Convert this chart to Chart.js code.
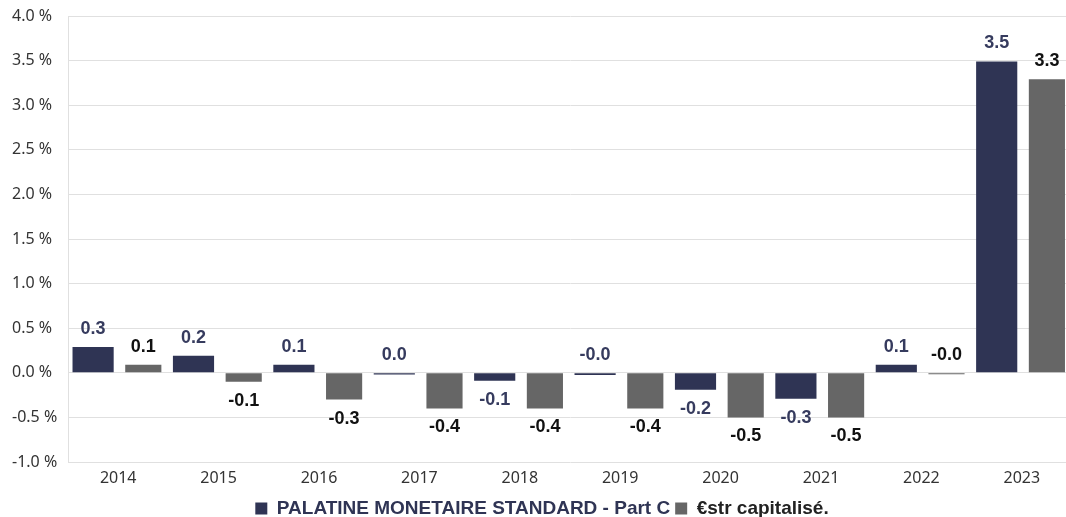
<!DOCTYPE html>
<html>
<head>
<meta charset="utf-8">
<script src="https://cdn.jsdelivr.net/npm/chart.js@4.4.1/dist/chart.umd.min.js"></script>
<style>
html,body{margin:0;padding:0;background:#fff;overflow:hidden;}
#wrap{position:absolute;left:0;top:0;width:1072px;height:528px;}
</style>
</head>
<body>
<div id="wrap"><canvas id="c"></canvas></div>
<script>
const categories = ["2014","2015","2016","2017","2018","2019","2020","2021","2022","2023"];
const seriesNames = ["PALATINE MONETAIRE STANDARD - Part C", "€str capitalisé."];
const fundValues = [0.29, 0.19, 0.09, -0.02, -0.09, -0.025, -0.19, -0.29, 0.09, 3.49];
const benchValues = [0.09, -0.10, -0.30, -0.40, -0.40, -0.40, -0.50, -0.50, -0.015, 3.29];
const fundLabels = ["0.3","0.2","0.1","0.0","-0.1","-0.0","-0.2","-0.3","0.1","3.5"];
const benchLabels = ["0.1","-0.1","-0.3","-0.4","-0.4","-0.4","-0.5","-0.5","-0.0","3.3"];
const yTicks = [-1.0,-0.5,0.0,0.5,1.0,1.5,2.0,2.5,3.0,3.5,4.0];

const NAVY = '#2f3454';
const GREY = '#666666';

const valueLabels = {
  id: 'valueLabels',
  afterDatasetsDraw(chart) {
    const ctx = chart.ctx;
    const texts = [fundLabels, benchLabels];
    const colors = ['#363b5e', '#111111'];
    chart.data.datasets.forEach((ds, di) => {
      const meta = chart.getDatasetMeta(di);
      meta.data.forEach((el, i) => {
        const v = ds.data[i];
        ctx.save();
        ctx.font = 'bold 18px "Liberation Sans", Arial, sans-serif';
        ctx.fillStyle = colors[di];
        ctx.textAlign = 'center';
        ctx.textBaseline = 'alphabetic';
        const zero = chart.scales.y.getPixelForValue(0);
        let y;
        if (v > -0.05) {
          const top = Math.min(el.y, zero);
          y = top - 13;
        } else {
          y = el.y + 11 + 13;
        }
        ctx.fillText(texts[di][i], el.x, y);
        ctx.restore();
      });
    });
  }
};

new Chart(document.getElementById('c'), {
  type: 'bar',
  data: {
    labels: categories,
    datasets: [
      { label: seriesNames[0], data: fundValues, backgroundColor: NAVY, barPercentage: 0.82, categoryPercentage: 1.0 },
      { label: seriesNames[1], data: benchValues, backgroundColor: GREY, barPercentage: 0.72, categoryPercentage: 1.0 }
    ]
  },
  options: {
    responsive: true,
    maintainAspectRatio: false,
    animation: false,
    layout: { padding: { top: 16, right: 0, left: 12, bottom: 0 } },
    plugins: {
      tooltip: { enabled: false },
      legend: {
        position: 'bottom',
        labels: {
          boxWidth: 12,
          boxHeight: 12,
          padding: 5,
          font: { family: '"Liberation Sans", Arial, sans-serif', size: 19, weight: 'bold' },
          generateLabels(chart) {
            const items = Chart.defaults.plugins.legend.labels.generateLabels(chart);
            const fc = [NAVY, '#222222'];
            items.forEach((it, i) => { it.fontColor = fc[i]; it.lineWidth = 0; it.strokeStyle = 'rgba(0,0,0,0)'; });
            return items;
          }
        }
      }
    },
    scales: {
      x: {
        offset: true,
        afterFit(scale) { scale.height = 32; },
        grid: { display: false, drawTicks: false },
        border: { display: false },
        ticks: { color: '#333', padding: 8, font: { family: '"Noto Sans", sans-serif', size: 16, lineHeight: 1 } }
      },
      y: {
        min: -1, max: 4,
        afterFit(scale) { scale.width = 56; },
        afterBuildTicks(scale) { scale.ticks = yTicks.map(v => ({ value: v })); },
        grid: { color: '#e0e0e0', drawTicks: false, lineWidth: 1 },
        border: { display: true, color: '#e0e0e0' },
        ticks: {
          color: '#333', padding: 0, crossAlign: 'far',
          font: { family: '"Noto Sans", sans-serif', size: 16 },
          callback: v => v.toFixed(1) + ' %'
        }
      }
    }
  },
  plugins: [valueLabels]
});
</script>
</body>
</html>
